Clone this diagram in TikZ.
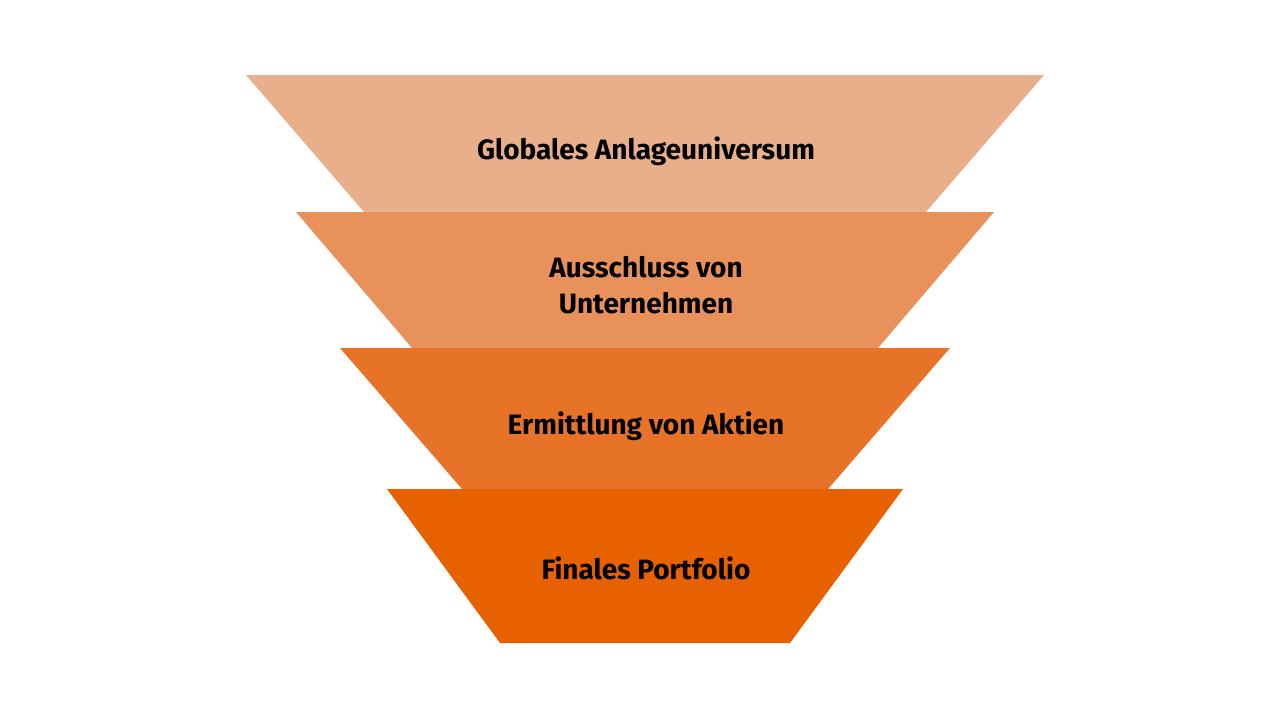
\documentclass[tikz,border=0pt]{standalone}
\usepackage{fontspec}
\setmainfont{Fira Sans}
\definecolor{c1}{HTML}{E9AF8A}
\definecolor{c2}{HTML}{E8915A}
\definecolor{c3}{HTML}{E67328}
\definecolor{c4}{HTML}{E86100}
\tikzset{lbl/.style={font=\fontsize{28}{36}\selectfont\bfseries, align=center, text=black}}
\begin{document}
\begin{tikzpicture}[x=1pt,y=-1pt]
\useasboundingbox (0,0) rectangle (1280,720);
\fill[c1] (246,75) -- (1044,75) -- (926,212) -- (364,212) -- cycle;
\fill[c2] (296,212) -- (994,212) -- (878,348) -- (412,348) -- cycle;
\fill[c3] (340,348) -- (950,348) -- (828,489) -- (462,489) -- cycle;
\fill[c4] (387,489) -- (903,489) -- (790,643) -- (500,643) -- cycle;
\node[lbl] (t1) at (646,151) {Globales Anlageuniversum};
\node[lbl] (t2) at (646,285) {Ausschluss von\\Unternehmen};
\node[lbl] (t3) at (646,426) {Ermittlung von Aktien};
\node[lbl] (t4) at (646,568) {Finales Portfolio};
\end{tikzpicture}
\end{document}
